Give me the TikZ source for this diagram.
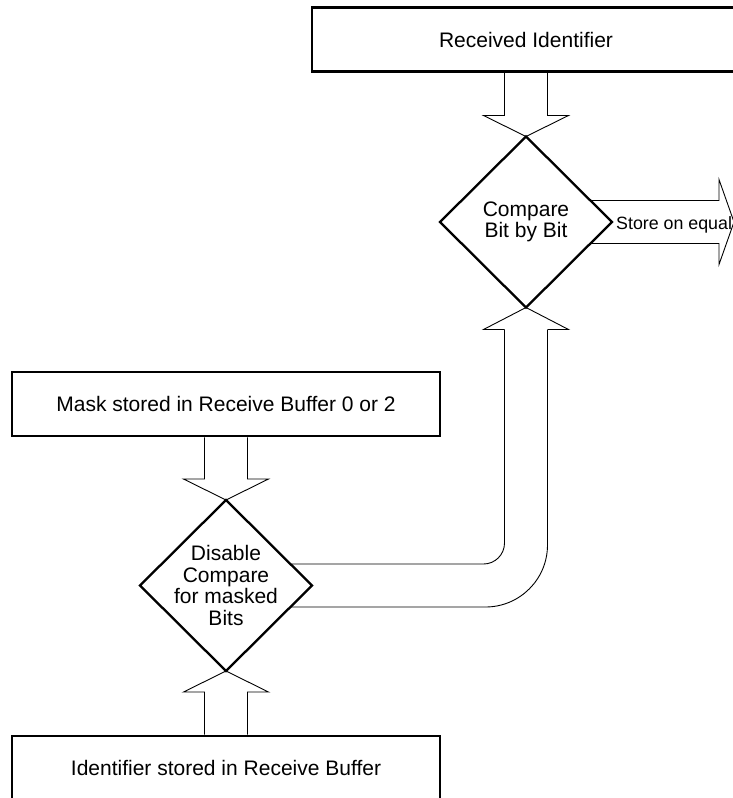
\documentclass[tikz,border=0pt]{standalone}
\usepackage{fontspec}
\setmainfont{Liberation Sans}
\usetikzlibrary{shapes.geometric,calc}
\tikzset{
  framebox/.style={draw=black,line width=2.6pt,minimum width=428pt,minimum height=64pt,inner sep=0pt,font=\fontsize{21}{21.5}\selectfont},
  decide/.style={diamond,draw=black,line width=2.3pt,minimum width=172pt,minimum height=171pt,inner sep=-6pt,outer sep=0pt,align=center,font=\fontsize{21}{21.5}\selectfont},
  blockarrow/.style={draw=black,line width=0.9pt},
  arrowtext/.style={font=\fontsize{17.8}{18}\selectfont,inner sep=0pt}
}

\begin{document}
\begin{tikzpicture}[x=1pt,y=-1pt]
  \path[use as bounding box,clip] (0,0) rectangle (733,798);

  \node[framebox] (recv) at (526,39.5) {Received Identifier};
  \node[framebox] (mask) at (226,404) {Mask stored in Receive Buffer 0 or 2};
  \node[framebox] (idbuf) at (226,768) {Identifier stored in Receive Buffer};
  \node[decide] (cmp) at (526,222) {Compare\\Bit by Bit};
  \node[decide] (dis) at (226,585.5) {Disable\\Compare\\for masked\\Bits};
  \coordinate (out) at (734,222);

  % into the compare diamond
  \draw[blockarrow] ([xshift=-21.5pt]recv.south) -- ([xshift=-21.5pt,yshift=21pt]cmp.north) -- ([xshift=-42.5pt,yshift=21pt]cmp.north) -- (cmp.north) -- ([xshift=42.5pt,yshift=21pt]cmp.north) -- ([xshift=21.5pt,yshift=21pt]cmp.north) -- ([xshift=21.5pt]recv.south);

  % mask into the disable diamond
  \draw[blockarrow] ([xshift=-21.5pt]mask.south) -- ([xshift=-21.5pt,yshift=21pt]dis.north) -- ([xshift=-42.5pt,yshift=21pt]dis.north) -- (dis.north) -- ([xshift=42.5pt,yshift=21pt]dis.north) -- ([xshift=21.5pt,yshift=21pt]dis.north) -- ([xshift=21.5pt]mask.south);

  % identifier up into the disable diamond
  \draw[blockarrow] ([xshift=-21.5pt]idbuf.north) -- ([xshift=-21.5pt,yshift=-21pt]dis.south) -- ([xshift=-42.5pt,yshift=-21pt]dis.south) -- (dis.south) -- ([xshift=42.5pt,yshift=-21pt]dis.south) -- ([xshift=21.5pt,yshift=-21pt]dis.south) -- ([xshift=21.5pt]idbuf.north);

  % bent arrow from disable to compare
  \draw[blockarrow,rounded corners=21pt] ([xshift=-21.5pt,yshift=21.5pt]dis.east) -| ([xshift=-21.5pt,yshift=-22pt]cmp.south);
  \draw[blockarrow,rounded corners=62pt] ([xshift=-21.5pt,yshift=-21.5pt]dis.east) -| ([xshift=21.5pt,yshift=-22pt]cmp.south);
  \draw[blockarrow] ([xshift=-21.5pt,yshift=-22pt]cmp.south) -- ([xshift=-42.5pt,yshift=-22pt]cmp.south) -- (cmp.south) -- ([xshift=42.5pt,yshift=-22pt]cmp.south) -- ([xshift=21.5pt,yshift=-22pt]cmp.south);

  % out of the compare diamond
  \draw[blockarrow] ([xshift=-21.5pt,yshift=21.5pt]cmp.east) -- ([xshift=-15pt,yshift=21.5pt]out) -- ([xshift=-15pt,yshift=42.5pt]out) -- (out) -- ([xshift=-15pt,yshift=-42.5pt]out) -- ([xshift=-15pt,yshift=-21.5pt]out) -- ([xshift=-21.5pt,yshift=-21.5pt]cmp.east);
  \node[arrowtext,anchor=base west] (store) at (616,229) {Store on equal};
\end{tikzpicture}
\end{document}
